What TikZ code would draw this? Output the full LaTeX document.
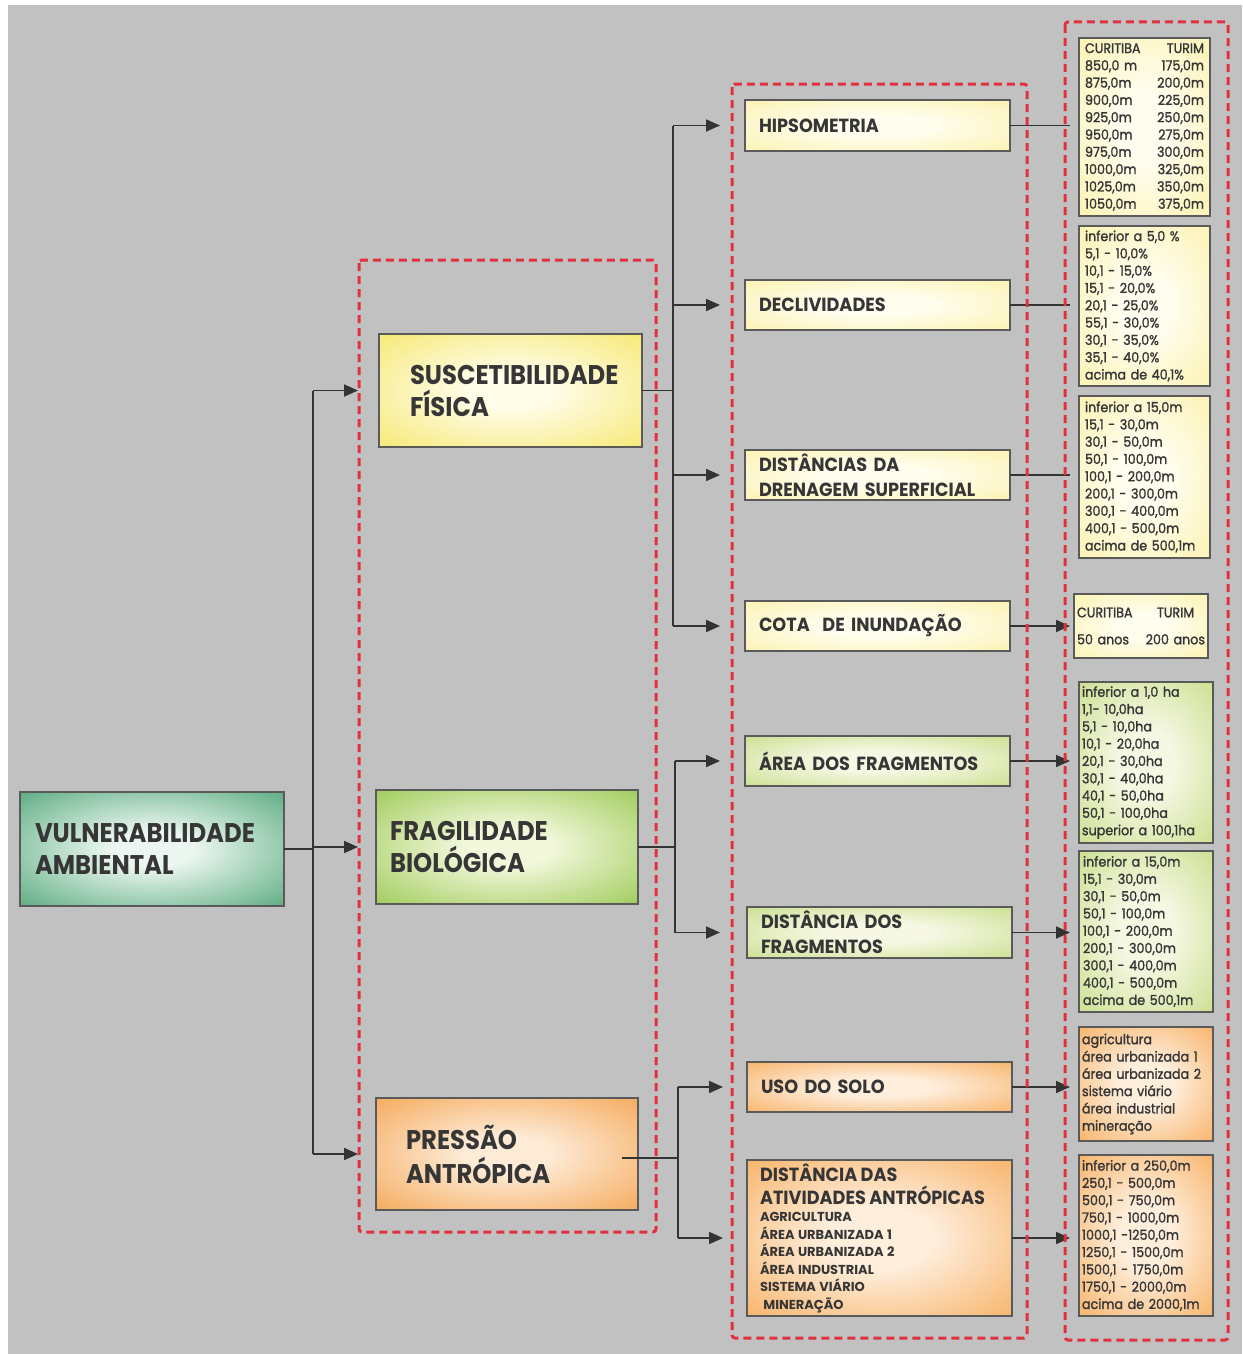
\documentclass[tikz,border=0pt]{standalone}
\usepackage{fontspec}
\setmainfont{Poppins}
\newfontfamily\headfont{Poppins}[FakeStretch=0.9]
\newfontfamily\midfont{Poppins}[FakeStretch=0.93]
\newfontfamily\listfont{Poppins}[FakeStretch=0.92,FakeBold=1.5]
\usetikzlibrary{arrows.meta}

\definecolor{paper}{HTML}{C1C1C1}
\definecolor{ink}{HTML}{363636}
\definecolor{boxline}{HTML}{5A5A5A}
\definecolor{wire}{HTML}{333333}
\definecolor{frame}{HTML}{E2303F}
% shading colours: centre / edge
\definecolor{tealC}{HTML}{EAF6EF}\definecolor{tealE}{HTML}{3E9C69}
\definecolor{yelC}{HTML}{FFFCE8}\definecolor{yelE}{HTML}{F4E55C}
\definecolor{limeC}{HTML}{F3F8DC}\definecolor{limeE}{HTML}{8DC23F}
\definecolor{oraC}{HTML}{FDEBD6}\definecolor{oraE}{HTML}{F49C42}
\definecolor{pyelC}{HTML}{FFFDEE}\definecolor{pyelE}{HTML}{FBF0A4}
\definecolor{plimeC}{HTML}{F6F8E4}\definecolor{plimeE}{HTML}{C2DA7E}
\definecolor{poraC}{HTML}{FEEEDC}\definecolor{poraE}{HTML}{F6A650}

\pgfdeclareradialshading{tealsh}{\pgfpoint{0bp}{0bp}}{color(0bp)=(tealC); color(8bp)=(tealC); color(42bp)=(tealE); color(50bp)=(tealE)}
\pgfdeclareradialshading{yelsh}{\pgfpoint{0bp}{0bp}}{color(0bp)=(yelC); color(8bp)=(yelC); color(42bp)=(yelE); color(50bp)=(yelE)}
\pgfdeclareradialshading{limesh}{\pgfpoint{0bp}{0bp}}{color(0bp)=(limeC); color(8bp)=(limeC); color(42bp)=(limeE); color(50bp)=(limeE)}
\pgfdeclareradialshading{orash}{\pgfpoint{0bp}{0bp}}{color(0bp)=(oraC); color(8bp)=(oraC); color(42bp)=(oraE); color(50bp)=(oraE)}
\pgfdeclareradialshading{pyelsh}{\pgfpoint{0bp}{0bp}}{color(0bp)=(pyelC); color(10bp)=(pyelC); color(42bp)=(pyelE); color(50bp)=(pyelE)}
\pgfdeclareradialshading{plimesh}{\pgfpoint{0bp}{0bp}}{color(0bp)=(plimeC); color(10bp)=(plimeC); color(42bp)=(plimeE); color(50bp)=(plimeE)}
\pgfdeclareradialshading{porash}{\pgfpoint{0bp}{0bp}}{color(0bp)=(poraC); color(10bp)=(poraC); color(42bp)=(poraE); color(50bp)=(poraE)}

\tikzset{
  box/.style={draw=boxline, line width=1.2pt, anchor=north west, align=left,
    inner ysep=0pt, outer sep=0pt, text=ink},
  bigtitle/.style={font=\headfont\bfseries\fontsize{27}{32}\selectfont},
  midtitle/.style={font=\midfont\bfseries\fontsize{19}{25}\selectfont},
  listtext/.style={font=\listfont\fontsize{13.8}{17.3}\selectfont},
  wirestyle/.style={draw=wire, line width=1.8pt},
  arrowstyle/.style={wirestyle, -{Triangle[length=14pt,width=12pt]}},
  groupframe/.style={draw=frame, line width=3pt, dash pattern=on 8pt off 5pt, rounded corners=3pt},
}

\begin{document}
\begin{tikzpicture}[x=1pt,y=-1pt]
% page and grey panel
\fill[white] (0,0) rectangle (1242,1354);
\fill[paper] (8,5) rectangle (1242,1354);

% ---------- level 0 ----------
\node[box, bigtitle, shading=tealsh, minimum width=264pt, minimum height=114pt,
  inner xsep=15pt, text width=234pt] (A) at (20,792) {VULNERABILIDADE\\AMBIENTAL};

% ---------- level 1 ----------
\node[box, bigtitle, shading=yelsh, minimum width=263pt, minimum height=113pt,
  inner xsep=31pt, text width=201pt] (S) at (379,334) {SUSCETIBILIDADE\\FÍSICA};
\node[box, bigtitle, shading=limesh, minimum width=262pt, minimum height=114pt,
  inner xsep=14pt, text width=234pt] (F) at (376,790) {FRAGILIDADE\\BIOLÓGICA};
\node[box, bigtitle, shading=orash, minimum width=262pt, minimum height=112pt,
  inner xsep=30pt, text width=202pt, font=\headfont\bfseries\fontsize{27}{34}\selectfont] (P) at (376,1098) {PRESSÃO\\ANTRÓPICA};

% ---------- level 2 ----------
\node[box, midtitle, shading=pyelsh, minimum width=265pt, minimum height=51pt,
  inner xsep=14pt, text width=237pt] (m1) at (745,100) {HIPSOMETRIA};
\node[box, midtitle, shading=pyelsh, minimum width=265pt, minimum height=50pt,
  inner xsep=14pt, text width=237pt] (m2) at (745,280) {DECLIVIDADES};
\node[box, midtitle, shading=pyelsh, minimum width=265pt, minimum height=50pt,
  inner xsep=14pt, text width=237pt] (m3) at (745,450) {DISTÂNCIAS DA\\DRENAGEM SUPERFICIAL};
\node[box, midtitle, shading=pyelsh, minimum width=265pt, minimum height=50pt,
  inner xsep=14pt, text width=237pt] (m4) at (745,601) {COTA\ \ DE INUNDAÇÃO};
\node[box, midtitle, shading=plimesh, minimum width=265pt, minimum height=50pt,
  inner xsep=14pt, text width=237pt] (m5) at (745,736) {ÁREA DOS FRAGMENTOS};
\node[box, midtitle, shading=plimesh, minimum width=265pt, minimum height=51pt,
  inner xsep=14pt, text width=237pt] (m6) at (747,907) {DISTÂNCIA DOS\\FRAGMENTOS};
\node[box, midtitle, shading=porash, minimum width=265pt, minimum height=50pt,
  inner xsep=14pt, text width=237pt] (m7) at (747,1062) {USO DO SOLO};
\node[box, shading=porash, minimum width=265pt, minimum height=156pt,
  inner xsep=13pt, text width=239pt] (m8) at (747,1160)
  {{\midfont\bfseries\fontsize{19}{23}\selectfont DISTÂNCIA DAS\\ATIVIDADES ANTRÓPICAS\par}%
   {\setmainfont{Poppins}\bfseries\fontsize{13}{17.5}\selectfont AGRICULTURA\\ÁREA URBANIZADA 1\\ÁREA URBANIZADA 2\\ÁREA INDUSTRIAL\\SISTEMA VIÁRIO\\\ MINERAÇÃO\par}};

% ---------- level 3: class tables ----------
\node[box, listtext, shading=pyelsh, minimum width=131pt, minimum height=178pt,
  inner xsep=6pt, text width=119pt] (r1) at (1079,38)
  {CURITIBA\hfill TURIM\\850,0 m\hfill 175,0m\\875,0m\hfill 200,0m\\900,0m\hfill 225,0m\\925,0m\hfill 250,0m\\950,0m\hfill 275,0m\\975,0m\hfill 300,0m\\1000,0m\hfill 325,0m\\1025,0m\hfill 350,0m\\1050,0m\hfill 375,0m};
\node[box, listtext, shading=pyelsh, minimum width=131pt, minimum height=160pt,
  inner xsep=6pt, text width=119pt] (r2) at (1079,226)
  {inferior a 5,0 \%\\5,1 - 10,0\%\\10,1 - 15,0\%\\15,1 - 20,0\%\\20,1 - 25,0\%\\55,1 - 30,0\%\\30,1 - 35,0\%\\35,1 - 40,0\%\\acima de 40,1\%};
\node[box, listtext, shading=pyelsh, minimum width=131pt, minimum height=162pt,
  inner xsep=6pt, text width=119pt] (r3) at (1079,396)
  {inferior a 15,0m\\15,1 - 30,0m\\30,1 - 50,0m\\50,1 - 100,0m\\100,1 - 200,0m\\200,1 - 300,0m\\300,1 - 400,0m\\400,1 - 500,0m\\\mbox{acima de 500,1m}};
\node[box, listtext, shading=pyelsh, minimum width=134pt, minimum height=64pt,
  inner xsep=3pt, text width=128pt, font=\listfont\fontsize{13.8}{27}\selectfont] (r4) at (1074,594)
  {\makebox[80pt][l]{CURITIBA}TURIM\\50 anos\hfill 200 anos};
\node[box, listtext, shading=plimesh, minimum width=134pt, minimum height=161pt,
  inner xsep=3pt, text width=128pt] (r5) at (1079,682)
  {inferior a 1,0 ha\\1,1- 10,0ha\\5,1 - 10,0ha\\10,1 - 20,0ha\\20,1 - 30,0ha\\30,1 - 40,0ha\\40,1 - 50,0ha\\50,1 - 100,0ha\\\mbox{superior a 100,1ha}};
\node[box, listtext, shading=plimesh, minimum width=134pt, minimum height=161pt,
  inner xsep=4pt, text width=126pt] (r6) at (1079,851)
  {inferior a 15,0m\\15,1 - 30,0m\\30,1 - 50,0m\\50,1 - 100,0m\\100,1 - 200,0m\\200,1 - 300,0m\\300,1 - 400,0m\\400,1 - 500,0m\\\mbox{acima de 500,1m}};
\node[box, listtext, shading=porash, minimum width=134pt, minimum height=114pt,
  inner xsep=3pt, text width=128pt] (r7) at (1079,1027)
  {agricultura\\\mbox{área urbanizada 1}\\\mbox{área urbanizada 2}\\sistema viário\\área industrial\\mineração};
\node[box, listtext, shading=porash, minimum width=134pt, minimum height=161pt,
  inner xsep=3pt, text width=128pt] (r8) at (1079,1155)
  {inferior a 250,0m\\250,1 - 500,0m\\500,1 - 750,0m\\750,1 - 1000,0m\\1000,1 -1250,0m\\1250,1 - 1500,0m\\1500,1 - 1750,0m\\1750,1 - 2000,0m\\\mbox{acima de 2000,1m}};

% ---------- junction columns ----------
\coordinate (j0) at (313,0);
\coordinate (j1) at (673,0);
\coordinate (j2) at (675,0);
\coordinate (j3) at (678,0);
\coordinate (j4) at (1070,0);

% level 0 -> level 1
\draw[wirestyle] (A.east) -- (A.east -| j0);
\draw[wirestyle] (j0 |- S.west) -- (j0 |- P.west);
\draw[arrowstyle, shorten >=21pt] (j0 |- S.west) -- (S.west);
\draw[arrowstyle, shorten >=18pt] (j0 |- F.west) -- (F.west);
\draw[arrowstyle, shorten >=18pt] (j0 |- P.west) -- (P.west);

% SUSCETIBILIDADE FÍSICA -> its themes
\draw[wirestyle] (S.east) -- (S.east -| j1);
\draw[wirestyle] (j1 |- m1.west) -- (j1 |- m4.west);
\foreach \m in {m1,m2,m3,m4}
  \draw[arrowstyle, shorten >=25pt] (j1 |- \m.west) -- (\m.west);

% FRAGILIDADE BIOLÓGICA -> its themes
\draw[wirestyle] (F.east) -- (F.east -| j2);
\draw[wirestyle] (j2 |- m5.west) -- (j2 |- m6.west);
\draw[arrowstyle, shorten >=25pt] (j2 |- m5.west) -- (m5.west);
\draw[arrowstyle, shorten >=27pt] (j2 |- m6.west) -- (m6.west);

% PRESSÃO ANTRÓPICA -> its themes
\draw[wirestyle] ([xshift=-16pt,yshift=-4pt]P.east) -- ([yshift=-4pt]P.east -| j3);
\draw[wirestyle] (j3 |- m7.west) -- (j3 |- m8.west);
\draw[arrowstyle, shorten >=24pt] (j3 |- m7.west) -- (m7.west);
\draw[arrowstyle, shorten >=24pt] (j3 |- m8.west) -- (m8.west);

% themes -> class tables
\foreach \m in {m1,m2,m3}
  \draw[wirestyle] (\m.east) -- (\m.east -| j4);
\foreach \m in {m4,m5,m6,m7,m8}
  \draw[arrowstyle] (\m.east) -- (\m.east -| j4);

% dashed group frames
\draw[groupframe] (359,260) rectangle (656,1232);
\draw[groupframe] (732,84) rectangle (1027,1338);
\draw[groupframe] (1065,22) rectangle (1228,1340);
\end{tikzpicture}
\end{document}
